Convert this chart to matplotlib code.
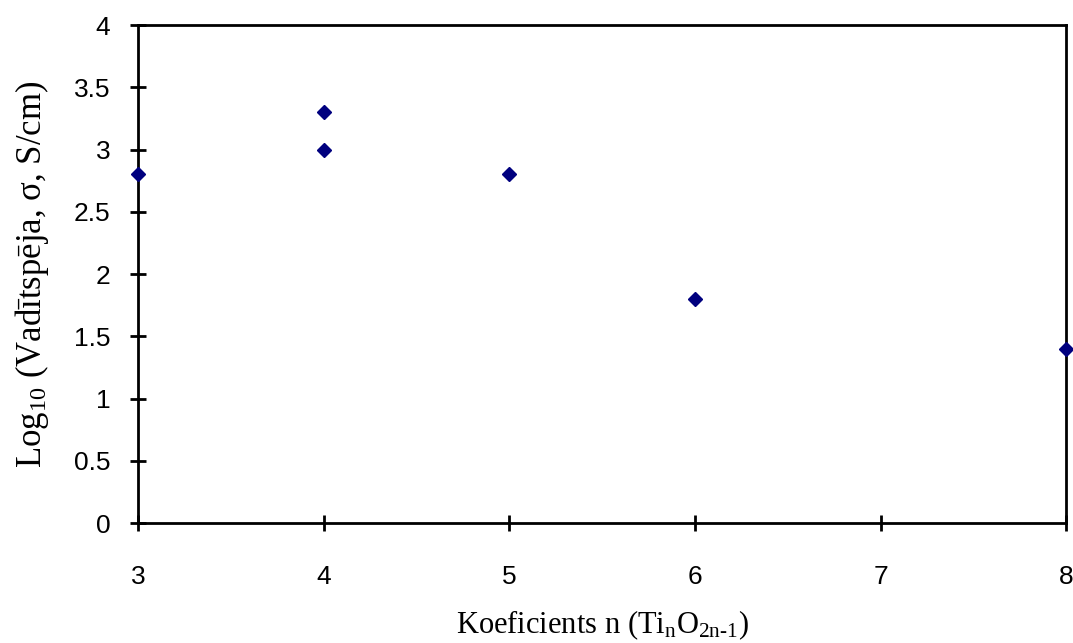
import matplotlib
matplotlib.use('Agg')
import matplotlib.pyplot as plt

n_values = [3, 4, 4, 5, 6, 8]
log_sigma = [2.8, 3.3, 3.0, 2.8, 1.8, 1.4]
x_ticks = [3, 4, 5, 6, 7, 8]
y_ticks = [0, 0.5, 1, 1.5, 2, 2.5, 3, 3.5, 4]

plt.rcParams['mathtext.fontset'] = 'custom'
plt.rcParams['mathtext.rm'] = 'Liberation Serif'
plt.rcParams['mathtext.it'] = 'Liberation Serif'

fig = plt.figure(figsize=(10.73, 6.43), dpi=100)
ax = fig.add_axes([0.1286, 0.1866, 0.865, 0.7745])

ax.plot(n_values, log_sigma, linestyle='none', marker='D', markersize=7.5,
        color='#00007f', clip_on=False, zorder=5)

ax.set_xlim(3, 8)
ax.set_ylim(0, 4)
ax.set_xticks(x_ticks)
ax.set_yticks(y_ticks)
ax.set_xticklabels([str(t) for t in x_ticks])
ax.set_yticklabels(['0', '0.5', '1', '1.5', '2', '2.5', '3', '3.5', '4'])

for s in ax.spines.values():
    s.set_linewidth(2)
ax.tick_params(direction='inout', length=12, width=2, labelsize=19)
ax.tick_params(axis='x', pad=24)
ax.tick_params(axis='y', pad=14)
for lab in ax.get_xticklabels() + ax.get_yticklabels():
    lab.set_family('Liberation Sans')

ax.set_xlabel(r'Koeficients n (Ti$_{\mathrm{n}}$O$_{\mathrm{2n\text{-}1}}$)',
              family='Liberation Serif', fontsize=22, labelpad=14)
ax.set_ylabel(r'Log$_{\mathrm{10}}$ (Vadītspēja, σ, S/cm)',
              family='Liberation Serif', fontsize=25, labelpad=16)

plt.savefig('out.png', dpi=100)
